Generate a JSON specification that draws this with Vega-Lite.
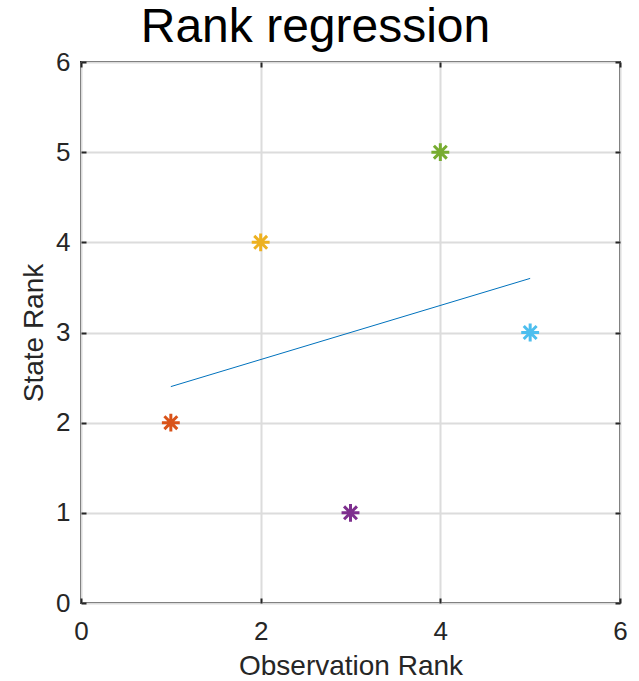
{
  "$schema": "https://vega.github.io/schema/vega-lite/v6.json",
  "width": 539,
  "height": 541,
  "autosize": {"type": "none"},
  "padding": {"left": 81, "top": 62, "right": 19, "bottom": 78},
  "background": "white",
  "title": {
    "text": "Rank regression",
    "fontSize": 48,
    "font": "Liberation Sans",
    "fontWeight": "normal",
    "color": "#000000",
    "anchor": "middle",
    "dx": -35,
    "offset": -3
  },
  "config": {
    "view": {"stroke": "#262626", "strokeWidth": 2},
    "axis": {
      "domain": false,
      "labelFont": "Liberation Sans",
      "labelFontSize": 26,
      "labelColor": "#262626",
      "labelFlush": false,
      "labelOverlap": false,
      "titleFont": "Liberation Sans",
      "titleFontSize": 28,
      "titleFontWeight": "normal",
      "titleColor": "#262626",
      "tickColor": "#262626",
      "tickWidth": 2,
      "tickSize": -5,
      "gridColor": "#dcdcdc",
      "gridWidth": 2
    }
  },
  "resolve": {"axis": {"x": "independent", "y": "independent"}},
  "layer": [
    {
      "data": {"values": [
        {"obs": 1, "fit": 2.4},
        {"obs": 5, "fit": 3.6}
      ]},
      "mark": {"type": "line", "color": "#0072BD", "strokeWidth": 1},
      "encoding": {
        "x": {"field": "obs", "type": "quantitative", "scale": {"domain": [0, 6], "nice": false},
              "axis": {"title": "Observation Rank", "values": [0, 2, 4, 6], "format": "d", "grid": true, "labelPadding": 20, "titlePadding": 8}},
        "y": {"field": "fit", "type": "quantitative", "scale": {"domain": [0, 6], "nice": false},
              "axis": {"title": "State Rank", "values": [0, 1, 2, 3, 4, 5, 6], "format": "d", "grid": true, "labelPadding": 16, "titlePadding": 7}}
      }
    },
    {
      "data": {"values": [
        {"obs": 1, "state": 2, "color": "#D95319"},
        {"obs": 2, "state": 4, "color": "#EDB120"},
        {"obs": 3, "state": 1, "color": "#7E2F8E"},
        {"obs": 4, "state": 5, "color": "#77AC30"},
        {"obs": 5, "state": 3, "color": "#4DBEEE"}
      ]},
      "mark": {
        "type": "point",
        "shape": "M-1,0L1,0M0,-1L0,1M-0.72,-0.72L0.72,0.72M-0.72,0.72L0.72,-0.72",
        "filled": false,
        "size": 320,
        "strokeWidth": 3,
        "opacity": 1
      },
      "encoding": {
        "x": {"field": "obs", "type": "quantitative",
              "axis": {"orient": "top", "title": null, "labels": false, "grid": false, "values": [0, 2, 4, 6]}},
        "y": {"field": "state", "type": "quantitative",
              "axis": {"orient": "right", "title": null, "labels": false, "grid": false, "values": [0, 1, 2, 3, 4, 5, 6]}},
        "stroke": {"field": "color", "type": "nominal", "scale": null}
      }
    }
  ]
}
